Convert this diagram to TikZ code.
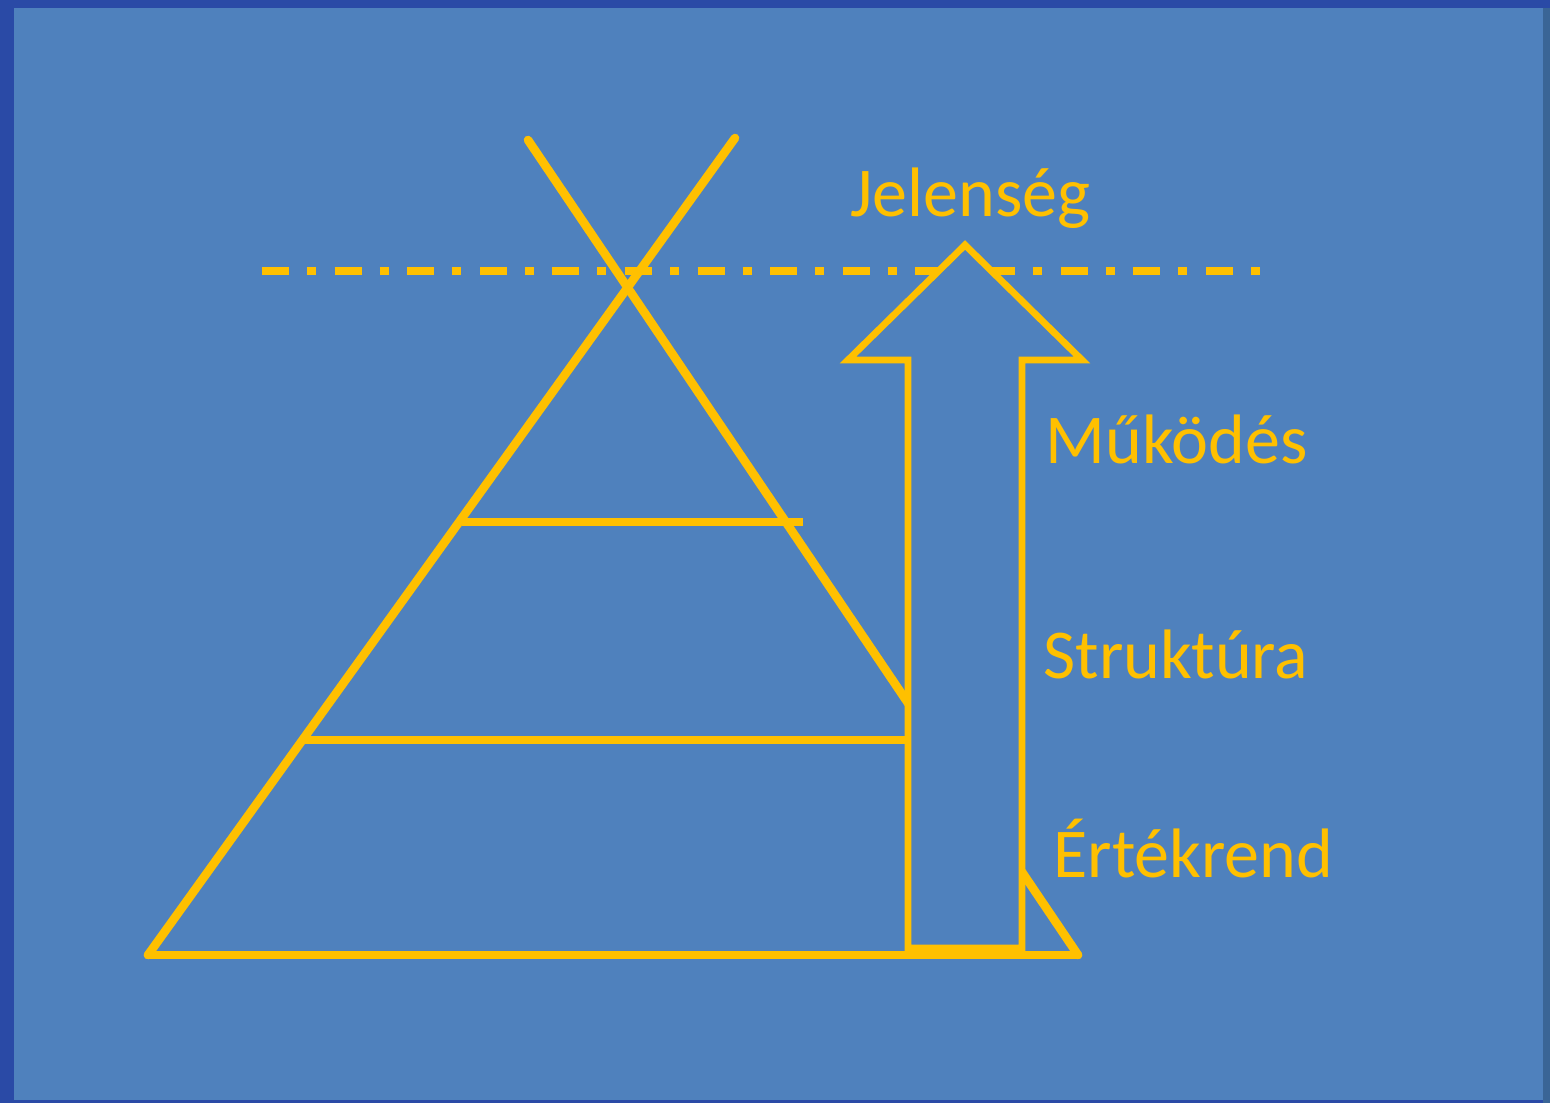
\documentclass[tikz,border=0pt]{standalone}
\usepackage{fontspec}
\setmainfont{Carlito}
\definecolor{slideblue}{HTML}{4F81BD}
\definecolor{frameblue}{HTML}{2A4AA6}
\definecolor{framedark}{HTML}{3A6596}
\definecolor{gold}{HTML}{FFC000}

\begin{document}
\begin{tikzpicture}[x=0.5pt, y=-0.5pt,
  pyrline/.style={draw=gold, line width=4.3pt, line cap=round, line join=round},
  levelline/.style={draw=gold, line width=3.6pt},
  surface/.style={draw=gold, line width=4pt, dash pattern=on 13.5pt off 9pt on 4.5pt off 9.3pt},
  uparrow/.style={draw=gold, fill=slideblue, line width=3.4pt, line join=miter},
  levelname/.style={text=gold, font=\fontsize{35}{40}\selectfont, anchor=base west, inner sep=0pt}
]
% slide frame
\fill[frameblue] (0,0) rectangle (1550,1103);
\fill[framedark] (1543,8) rectangle (1550,1103);
\fill[slideblue] (14,8) rectangle (1543,1100);

% pyramid corners, sides carried on past the apex
\coordinate (bl) at (148,955);
\coordinate (br) at (1078,955);
\coordinate (xl) at (528,140);
\coordinate (xr) at (735,138);

% level ends
\coordinate (m1) at (462,522);
\coordinate (m2) at (803,522);
\coordinate (s1) at (305,740);
\coordinate (s2) at (908,740);

% surface line
\coordinate (sa) at (262,271);
\coordinate (sb) at (1262,271);
\draw[surface] (sa) -- (sb);

% pyramid
\draw[pyrline] (bl) -- (xr);
\draw[pyrline] (br) -- (xl);
\draw[pyrline] (bl) -- (br);
\draw[levelline] (m1) -- (m2);
\draw[levelline] (s1) -- (s2);

% upward arrow, drawn on top
\draw[uparrow] (908,948) -- (908,360) -- (848,360) -- (965,245) -- (1082,360)
  -- (1022,360) -- (1022,948) -- cycle;

% level names
\node[levelname] (jel) at (850,216) {Jelenség};
\node[levelname] (muk) at (1045,463) {Működés};
\node[levelname] (str) at (1043,678) {Struktúra};
\node[levelname] (ert) at (1053,877) {Értékrend};
\end{tikzpicture}
\end{document}
